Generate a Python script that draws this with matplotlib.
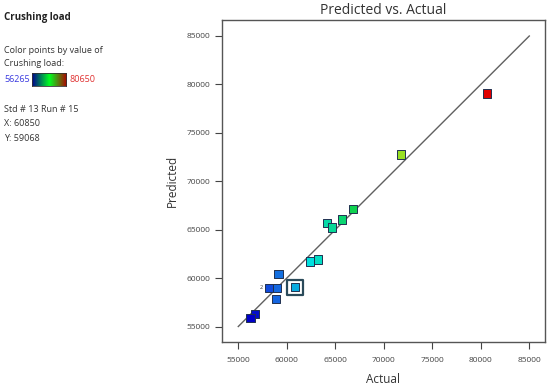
import numpy as np
import matplotlib
matplotlib.use('Agg')
import matplotlib.pyplot as plt
from matplotlib.colors import LinearSegmentedColormap

plt.rcParams['font.family'] = ['Open Sans', 'DejaVu Sans']

# runs
actual = [80650, 71800, 66800, 65700, 64150, 64630, 63220, 62420,
          59160, 58200, 59020, 60850, 58860, 56690, 56265]
predicted = [79050, 72750, 67130, 66060, 65720, 65230, 61920, 61710,
             60400, 58990, 58990, 59068, 57810, 56290, 55880]
vmin, vmax = 56265, 80650
ticks = [55000, 60000, 65000, 70000, 75000, 80000, 85000]
sel = 11  # highlighted run (Std # 13 Run # 15)

cmap = LinearSegmentedColormap.from_list('de', [
    (0.0, '#0000c8'), (0.1, '#1560e0'), (0.25, '#00e0e0'),
    (0.45, '#10d040'), (0.65, '#a0e020'), (0.85, '#e08000'),
    (1.0, '#e00000')])

fig = plt.figure(figsize=(5.5, 3.91), dpi=100)
ax = fig.add_axes([0.4036, 0.1253, 0.5873, 0.8235])

ax.plot([55000, 85000], [55000, 85000], color='#606060', lw=1, zorder=1)
cols = cmap((np.array(actual) - vmin) / (vmax - vmin))
ax.scatter(actual, predicted, marker='s', s=36, c=cols,
           edgecolors='#203050', linewidths=0.7, zorder=3)
ax.scatter([actual[sel]], [predicted[sel]], marker='s', s=120,
           facecolors='none', edgecolors='#2a4a5a', linewidths=1.6, zorder=4)
ax.text(actual[9] - 700, predicted[9], '2', fontsize=4, ha='right',
        va='center', color='#333333')

ax.set_xlim(53320, 86620)
ax.set_ylim(53400, 86650)
ax.set_xticks(ticks)
ax.set_yticks(ticks)
ax.tick_params(labelsize=6, colors='#444444', length=5, width=0.8,
               top=False, right=False)
ax.tick_params(axis='x', pad=6)
for s in ax.spines.values():
    s.set_color('#555555')
    s.set_linewidth(1)
ax.set_xlabel('Actual', fontsize=8.5, labelpad=6, color='#333333')
ax.set_ylabel('Predicted', fontsize=8.5, labelpad=5, color='#333333')
ax.set_title('Predicted vs. Actual', fontsize=10, pad=4, color='#333333')

# left info panel
x0 = 0.008
fig.text(x0, 0.955, 'Crushing load', fontsize=7, fontweight='bold',
         va='center', color='#222222')
fig.text(x0, 0.872, 'Color points by value of', fontsize=6.5,
         va='center', color='#333333')
fig.text(x0, 0.838, 'Crushing load:', fontsize=6.5, va='center',
         color='#333333')
fig.text(x0, 0.797, str(vmin), fontsize=6.5, va='center', color='#3a3ae0')
fig.text(0.127, 0.797, str(vmax), fontsize=6.5, va='center', color='#e03030')
cax = fig.add_axes([0.058, 0.780, 0.062, 0.034])
cax.imshow(np.linspace(0, 1, 256)[None, :], aspect='auto', cmap=LinearSegmentedColormap.from_list(
    'bar', ['#000090', '#00ff20', '#b00000']))
cax.set_xticks([])
cax.set_yticks([])
for s in cax.spines.values():
    s.set_color('#333333')
    s.set_linewidth(0.6)
fig.text(x0, 0.721, 'Std # 13 Run # 15', fontsize=6.5, va='center',
         color='#333333')
fig.text(x0, 0.683, 'X: %d' % actual[sel], fontsize=6.5, va='center',
         color='#333333')
fig.text(x0, 0.645, 'Y: %d' % predicted[sel], fontsize=6.5, va='center',
         color='#333333')

fig.savefig('out.png', dpi=100)
